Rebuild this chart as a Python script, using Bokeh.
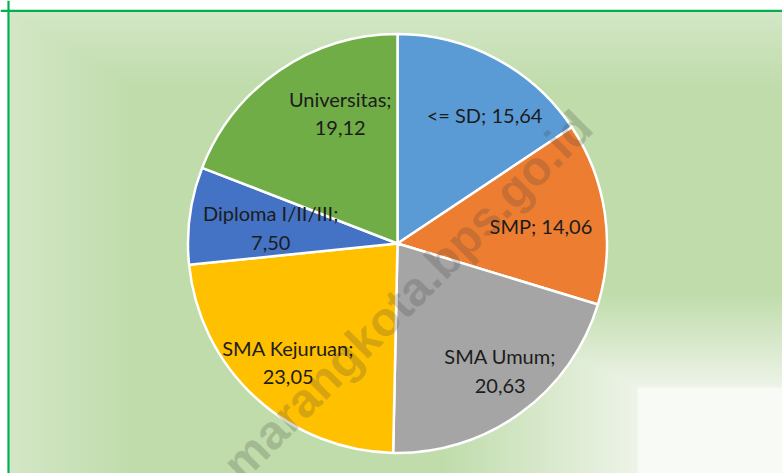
import numpy as np
from bokeh.plotting import figure
from bokeh.models import Range1d, Span
from bokeh.core.properties import value
from bokeh.embed import file_html
from bokeh.resources import INLINE

# ---- data ----
categories = ["<= SD", "SMP", "SMA Umum", "SMA Kejuruan", "Diploma I/II/III", "Universitas"]
values = [15.64, 14.06, 20.63, 23.05, 7.50, 19.12]
colors = ["#5B9BD5", "#ED7D31", "#A5A5A5", "#FFC000", "#4472C4", "#70AD47"]
label_sep = [" ", " ", "\n", "\n", "\n", "\n"]
watermark = "marangkota.bps.go.id"

# ---- layout / style ----
W, H = 782, 473
CX, CY, R = 397.0, 230.0, 209.5
label_r_frac = [0.74, 0.69, 0.78, 0.77, 0.61, 0.68]
label_ang_nudge = [6.0, 1.3, -3.0, 0.0, -0.5, 10.7]

p = figure(width=W, height=H, x_range=Range1d(0, W), y_range=Range1d(0, H),
           output_backend="svg", toolbar_location=None, min_border=0,
           border_fill_color="white", background_fill_color="white")
p.axis.visible = False
p.grid.visible = False
p.outline_line_color = None

# ---- background gradient ----
ys = np.arange(H) + 0.5
xs = np.arange(W) + 0.5
X, Y = np.meshgrid(xs, ys)
PX = X
PY = H - Y
base = np.array([191, 220, 170], float)
light = np.array([212, 231, 199], float)
nearw = np.array([238, 244, 233], float)
white = np.array([248, 250, 245], float)
fl = np.clip(1 - (PX - 9) / 130.0, 0, 1)
ft = np.clip(1 - (PY - 11) / 80.0, 0, 1)
f = np.maximum(fl, ft)[..., None]
col = base + (light - base) * f
t = np.clip(np.maximum((637 - PX) / 200.0, (387 - PY) / 97.0), 0, 1)[..., None]
col = nearw + (col - nearw) * t
inside = ((PX >= 637) & (PY >= 387))[..., None]
col = np.where(inside, white, col)
outside = ((PX < 9.0) | (PY < 11.0))[..., None]
col = np.where(outside, np.array([255, 255, 255], float), col)
img = np.empty((H, W), dtype=np.uint32)
view = img.view(dtype=np.uint8).reshape((H, W, 4))
view[..., 0:3] = np.clip(col, 0, 255).astype(np.uint8)
view[..., 3] = 255
p.image_rgba(image=[img], x=0, y=0, dw=W, dh=H)

# frame lines
p.add_layout(Span(location=8.0, dimension="height", line_color="#00B050", line_width=2.2))
p.add_layout(Span(location=H - 10.3, dimension="width", line_color="#00B050", line_width=2.2))

# ---- pie ----
vals = np.array(values)
cum = np.concatenate([[0], np.cumsum(vals)]) / vals.sum()
start = np.pi / 2 - 2 * np.pi * cum[:-1]
end = np.pi / 2 - 2 * np.pi * cum[1:]
p.wedge(x=CX, y=CY, radius=R, start_angle=start, end_angle=end, direction="clock",
        fill_color=colors, line_color="white", line_width=2.5)

# watermark
p.text(x=[407], y=[H - 295], text=[watermark], angle=np.deg2rad(45),
       text_font=value("Liberation Sans"), text_font_style="bold", text_font_size="48px",
       text_color="#404040", text_alpha=0.22, text_align="center", text_baseline="middle")

# labels
mid = (cum[:-1] + cum[1:]) / 2 * 360 + np.array(label_ang_nudge)
rad = np.deg2rad(mid)
lx = CX + R * np.array(label_r_frac) * np.sin(rad)
ly = CY + R * np.array(label_r_frac) * np.cos(rad)
labels = [f"{c};{s}{v:.2f}".replace(".", ",") for c, s, v in zip(categories, label_sep, values)]
p.text(x=lx, y=ly, text=labels, text_font=value("Lato"), text_font_size="20px",
       text_color="#1c1c1c", text_align="center", text_baseline="middle",
       text_line_height=1.2)

open("out.html", "w").write(file_html(p, INLINE))
